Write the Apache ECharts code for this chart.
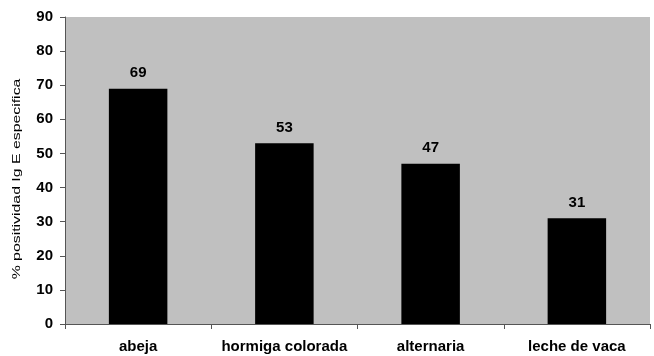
<!DOCTYPE html>
<html>
<head>
<meta charset="utf-8">
<script src="https://cdn.jsdelivr.net/npm/echarts@6/dist/echarts.min.js"></script>
<style>
html, body { margin: 0; padding: 0; background: #ffffff; }
#chart { width: 654px; height: 356px; }
</style>
</head>
<body>
<div id="chart"></div>
<script>
// Allergen categories and percentage of positive specific IgE
const categories = ['abeja', 'hormiga colorada', 'alternaria', 'leche de vaca'];
const positivity = [69, 53, 47, 31];
const yTicks = { min: 0, max: 90, interval: 10 };
const yAxisTitle = '% positividad Ig E especifica';

const FONT = 'Liberation Sans, Arial, sans-serif';
const chart = echarts.init(document.getElementById('chart'), null, { renderer: 'canvas' });

chart.setOption({
  animation: false,
  backgroundColor: '#ffffff',
  grid: {
    left: 65, right: 4, top: 17, bottom: 32,
    show: true, backgroundColor: '#c0c0c0', borderWidth: 0
  },
  // Axis title drawn as a rotated, horizontally stretched text element
  graphic: [{
    type: 'text',
    x: 17, y: 179,
    rotation: Math.PI / 2,
    scaleX: 1.44,
    style: {
      text: yAxisTitle,
      font: '11px ' + FONT,
      fill: '#000000',
      textAlign: 'center',
      textVerticalAlign: 'middle'
    }
  }],
  xAxis: {
    type: 'category',
    data: categories,
    axisLine: { lineStyle: { color: '#555555', width: 1 } },
    axisTick: { show: true, length: 5, alignWithLabel: false, lineStyle: { color: '#555555' } },
    axisLabel: {
      interval: 0,
      color: '#000000', fontFamily: FONT,
      fontWeight: 'bold', fontSize: 15, margin: 15
    }
  },
  yAxis: {
    type: 'value',
    min: yTicks.min, max: yTicks.max, interval: yTicks.interval,
    axisLine: { show: true, lineStyle: { color: '#555555', width: 1 } },
    axisTick: { show: true, length: 5, lineStyle: { color: '#555555' } },
    splitLine: { show: false },
    axisLabel: {
      color: '#000000', fontFamily: FONT,
      fontWeight: 'bold', fontSize: 15, margin: 12
    }
  },
  series: [{
    type: 'bar',
    data: positivity,
    barWidth: '40%',
    itemStyle: { color: '#000000' },
    label: {
      show: true, position: 'top', distance: 8,
      color: '#000000', fontFamily: FONT,
      fontWeight: 'bold', fontSize: 15
    }
  }]
});
</script>
</body>
</html>
